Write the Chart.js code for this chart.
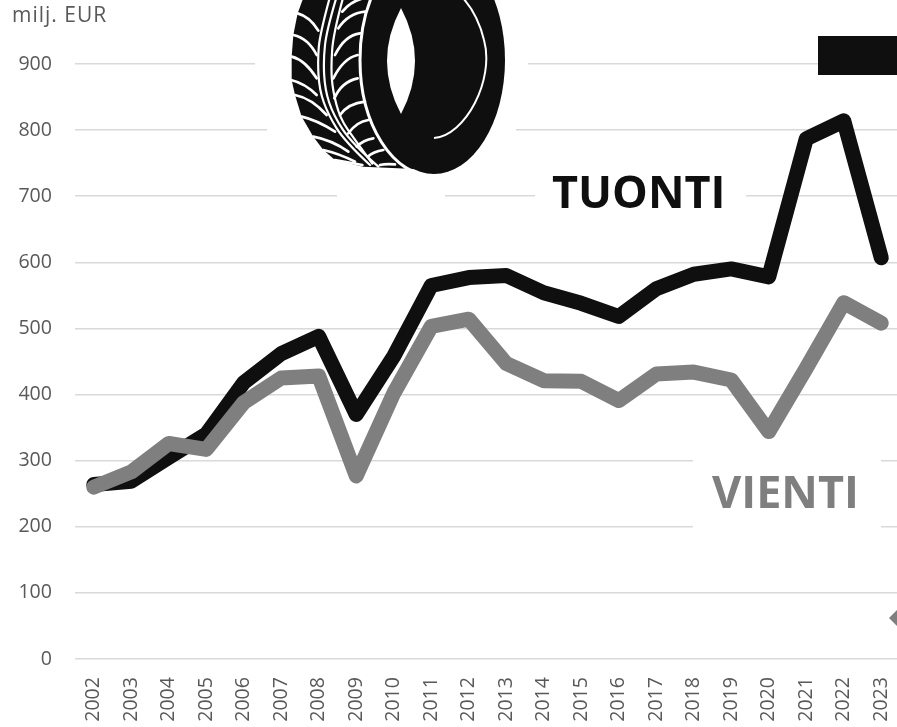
<!DOCTYPE html>
<html><head><meta charset="utf-8">
<style>html,body{margin:0;padding:0;background:#fff;overflow:hidden;width:897px;height:727px}#w{width:900px;height:727px}</style>
<script src="https://cdn.jsdelivr.net/npm/chart.js@4/dist/chart.umd.min.js"></script>
</head><body><div id="w"><canvas id="c" width="900" height="727"></canvas></div>
<script>
const years=["2002","2003","2004","2005","2006","2007","2008","2009","2010","2011","2012","2013","2014","2015","2016","2017","2018","2019","2020","2021","2022","2023"];
const tuonti=[264,269,305,340,418,462,488,370,458,565,577,580,554,538,518,560,582,590,578,787,814,607];
const vienti=[260,283,326,317,388,425,428,277,402,503,514,447,421,420,391,431,434,422,344,440,539,508];
const BLACK="#0f0f0f",GREY="#7f7f7f";
function tire(x){
 x.save();
 const A=(cx,cy)=>[285+cx/3,cy/3], B=(cx,cy)=>[285+cx/3,85+cy/3];
 x.fillStyle=BLACK;x.beginPath();
 const out=[A(60,-20),A(38,40),A(25,105),A(20,170),A(20,240),B(30,30),B(50,95),B(85,155),B(115,195),B(150,225),B(235,245),B(390,252),[440,120],[400,-10]];
 x.moveTo(out[0][0],out[0][1]);out.slice(1).forEach(p=>x.lineTo(p[0],p[1]));x.closePath();x.fill();
 x.strokeStyle="#fff";x.lineCap="round";x.lineJoin="round";
 const poly=(pts,w)=>{x.lineWidth=w;x.beginPath();x.moveTo(pts[0][0],pts[0][1]);
   for(let i=1;i<pts.length-1;i++){const m=[(pts[i][0]+pts[i+1][0])/2,(pts[i][1]+pts[i+1][1])/2];
     if(i<pts.length-2)x.quadraticCurveTo(pts[i][0],pts[i][1],m[0],m[1]);
     else x.quadraticCurveTo(pts[i][0],pts[i][1],pts[i+1][0],pts[i+1][1]);}
   x.stroke();};
 poly([A(135,-10),A(105,100),A(98,180),A(103,270),B(130,90),B(180,170),B(255,240)],2.2);
 poly([A(155,-10),A(125,90),A(115,180),A(120,270),B(145,90),B(200,175),B(280,245)],2.2);
 poly([A(175,-10),A(145,100),A(138,200),A(143,270),B(165,100),B(210,165),B(262,236)],2.2);
 [[A(38,40),A(75,50),A(100,92)],[A(25,105),A(70,115),A(95,165)],[A(20,170),A(60,180),A(95,235)],[A(18,240),A(60,250),B(95,30)],
  [B(30,30),B(80,40),B(125,90)],[B(50,95),B(95,105),B(150,140)],[B(85,155),B(140,165),B(190,200)],[B(115,195),B(160,205),B(210,230)],[B(150,225),B(190,232),B(232,240)]]
  .forEach(p=>poly(p,2.7));
 [[A(255,-8),A(205,-5),A(172,35)],[A(240,35),A(190,40),A(160,85)],[A(225,100),A(180,105),A(150,165)],[A(218,165),A(175,175),A(145,235)],[A(218,235),A(170,245),B(148,40)],
  [B(240,50),B(190,55),B(165,90)],[B(250,105),B(215,110),B(190,145)],[B(265,160),B(235,165),B(215,185)],[B(295,195),B(265,200),B(248,215)],[B(330,238),B(300,236),B(285,240)]]
  .forEach(p=>poly(p,2.7));
 x.strokeStyle="#fff";x.lineWidth=3;x.beginPath();x.ellipse(433,60,73,116,0,0,7);x.stroke();
 x.fillStyle=BLACK;x.beginPath();x.ellipse(434,60,71,114,0,0,7);x.fill();
 x.fillStyle="#fff";x.beginPath();x.moveTo(401,8);x.quadraticCurveTo(373,61,401,114);x.quadraticCurveTo(429,61,401,8);x.fill();
 x.strokeStyle="#fff";x.lineWidth=2;x.lineCap="butt";x.beginPath();x.moveTo(434,138);x.bezierCurveTo(465,136,495,80,484,40);x.quadraticCurveTo(478,15,463,-2);x.stroke();
 x.restore();
}
const overlay={id:"overlay",
 beforeDatasetsDraw(ch){const x=ch.ctx;x.save();x.fillStyle="#fff";
  x.fillRect(255,40,273,50);x.fillRect(267,110,249,40);x.fillRect(337,170,108,50);
  x.fillRect(535,165,211,60);x.fillRect(693,440,188,100);
  x.restore();
  tire(x);
  x.save();x.fillStyle=BLACK;x.fillRect(818,36,82,39);
  x.fillStyle=GREY;x.beginPath();x.moveTo(889,618);x.lineTo(900,607);x.lineTo(900,629);x.closePath();x.fill();
  x.restore();},
 afterDatasetsDraw(ch){const x=ch.ctx;x.save();x.textBaseline="alphabetic";x.textAlign="left";
  x.fillStyle="#595959";x.font='21px "Open Sans"';x.letterSpacing="1px";x.fillText("milj. EUR",12,22);x.letterSpacing="0px";
  x.font='bold 45px "Open Sans"';x.fillStyle=BLACK;x.fillText("TUONTI",552,208);
  x.fillStyle=GREY;x.fillText("VIENTI",712,508);
  x.restore();}
};
new Chart(document.getElementById("c"),{type:"line",
 data:{labels:years,datasets:[
  {label:"TUONTI",data:tuonti,borderColor:BLACK,borderWidth:15,pointRadius:0,tension:0,borderCapStyle:"round",borderJoinStyle:"round",fill:false},
  {label:"VIENTI",data:vienti,borderColor:GREY,borderWidth:15,pointRadius:0,tension:0,borderCapStyle:"round",borderJoinStyle:"round",fill:false,order:-1}
 ]},
 options:{responsive:false,animation:false,devicePixelRatio:1,
  layout:{padding:{top:64,left:0,right:0,bottom:0}},
  plugins:{legend:{display:false},tooltip:{enabled:false}},
  scales:{
   x:{offset:true,border:{display:false},grid:{display:false},
     afterFit(s){s.height=68;s.paddingLeft=0;s.paddingRight=0;},
     ticks:{color:"#595959",font:{family:"Open Sans",size:19.6},maxRotation:90,minRotation:90,padding:10,autoSkip:false}},
   y:{min:0,max:900,border:{display:false},
     afterFit(s){s.width=75;},
     grid:{color:"#d9d9d9",lineWidth:1.5,drawTicks:false},
     ticks:{stepSize:100,color:"#595959",font:{family:"Open Sans",size:19.6},padding:23}}
  }},
 plugins:[overlay]});
</script></body></html>
